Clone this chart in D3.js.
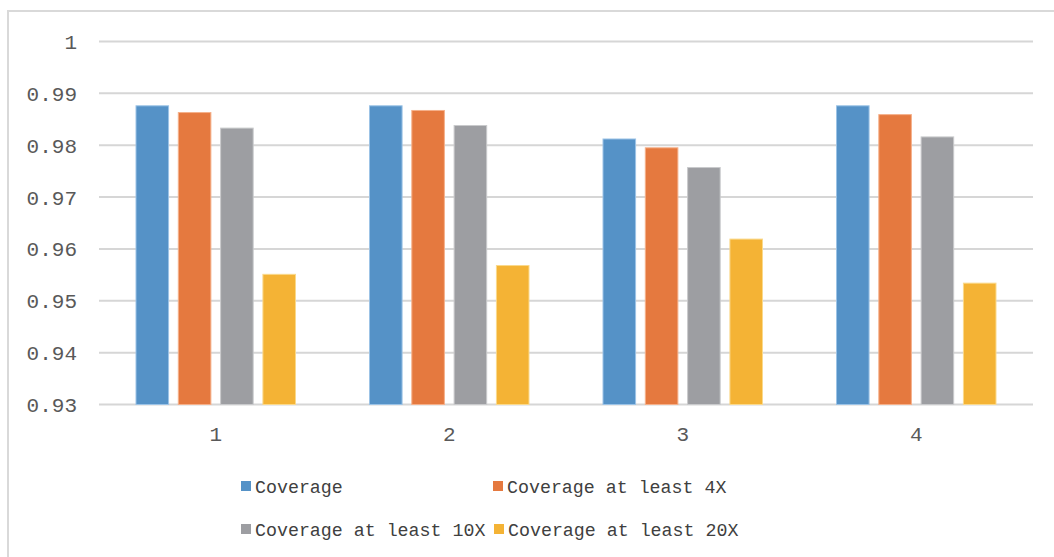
<!DOCTYPE html>
<html>
<head>
<meta charset="utf-8">
<script src="https://cdnjs.cloudflare.com/ajax/libs/d3/7.8.5/d3.min.js"></script>
<style>
  body { margin: 0; background: #fff; }
  svg text { font-family: "Liberation Mono", "DejaVu Sans Mono", monospace; }
</style>
</head>
<body>
<div class="chart"></div>
<script>
var categories = ["1", "2", "3", "4"];
var seriesNames = ["Coverage", "Coverage at least 4X", "Coverage at least 10X", "Coverage at least 20X"];
var coverage   = [0.9876, 0.9876, 0.9812, 0.9876];
var atLeast4X  = [0.9863, 0.9867, 0.9795, 0.9859];
var atLeast10X = [0.9833, 0.9838, 0.9757, 0.9816];
var atLeast20X = [0.9551, 0.9568, 0.9619, 0.9534];
var yTicks = [0.93, 0.94, 0.95, 0.96, 0.97, 0.98, 0.99, 1];
var colors = ["#5592c7", "#e5793f", "#9d9ea2", "#f4b335"];
var strokes = ["#9cc3e6", "#f5b08a", "#c9cacc", "#fad98c"];

var seriesValues = [coverage, atLeast4X, atLeast10X, atLeast20X];

var svg = d3.select(".chart")
            .append("svg")
            .attr("width", 1054)
            .attr("height", 557);

// chart frame
svg.append("rect")
    .attr("x", 8).attr("y", 11)
    .attr("width", 1100).attr("height", 600)
    .style("fill", "none")
    .style("stroke", "#d9d9d9")
    .style("stroke-width", 2);

var plotLeft = 99, plotRight = 1033, plotTop = 41.5, plotBottom = 404.5;

var y = d3.scaleLinear().domain([0.93, 1]).range([plotBottom, plotTop]);

var x0 = d3.scaleBand()
            .domain(categories)
            .range([plotLeft, plotRight])
            .paddingInner(0.317)
            .paddingOuter(0.1585);

var x1 = d3.scaleBand()
            .domain(d3.range(seriesNames.length))
            .range([0, x0.bandwidth()])
            .paddingInner(0.23);

// gridlines
svg.selectAll("line.grid")
    .data(yTicks)
  .enter()
    .append("line")
    .attr("class", "grid")
    .attr("x1", plotLeft).attr("x2", plotRight)
    .attr("y1", function(d) { return y(d); })
    .attr("y2", function(d) { return y(d); })
    .style("stroke", "#d6d6d6")
    .style("stroke-width", 2);

// y tick labels
svg.selectAll("text.ytick")
    .data(yTicks)
  .enter()
    .append("text")
    .attr("class", "ytick")
    .attr("x", 77)
    .attr("y", function(d) { return y(d); })
    .attr("dy", "0.36em")
    .attr("text-anchor", "end")
    .style("font-size", "21px")
    .style("fill", "#595959")
    .text(function(d) { return d === 1 ? "1" : d3.format(".2f")(d); });

// bars
var groups = svg.selectAll("g.group")
    .data(categories)
  .enter()
    .append("g")
    .attr("class", "group")
    .attr("transform", function(d) { return "translate(" + x0(d) + ",0)"; });

groups.selectAll("rect")
    .data(function(d, ci) {
        return seriesValues.map(function(vals, si) { return { s: si, v: vals[ci] }; });
    })
  .enter()
    .append("rect")
    .attr("x", function(d) { return x1(d.s); })
    .attr("y", function(d) { return y(d.v); })
    .attr("width", x1.bandwidth())
    .attr("height", function(d) { return plotBottom - y(d.v); })
    .style("fill", function(d) { return colors[d.s]; })
    .style("stroke", function(d) { return strokes[d.s]; })
    .style("stroke-width", 1);

// x labels
svg.selectAll("text.xtick")
    .data(categories)
  .enter()
    .append("text")
    .attr("class", "xtick")
    .attr("x", function(d) { return x0(d) + x0.bandwidth() / 2; })
    .attr("y", 433)
    .attr("dy", "0.36em")
    .attr("text-anchor", "middle")
    .style("font-size", "21px")
    .style("fill", "#595959")
    .text(function(d) { return d; });

// legend
var legendPos = [[241, 486], [493, 486], [241, 529], [494, 529]];

var legend = svg.selectAll("g.legend")
    .data(seriesNames)
  .enter()
    .append("g")
    .attr("class", "legend")
    .attr("transform", function(d, i) { return "translate(" + legendPos[i][0] + "," + legendPos[i][1] + ")"; });

legend.append("rect")
    .attr("x", 0).attr("y", -5)
    .attr("width", 10).attr("height", 10)
    .style("fill", function(d, i) { return colors[i]; });

legend.append("text")
    .attr("x", 14)
    .attr("y", 0)
    .attr("dy", "0.36em")
    .style("font-size", "18.3px")
    .style("fill", "#404040")
    .text(function(d) { return d; });
</script>
</body>
</html>
